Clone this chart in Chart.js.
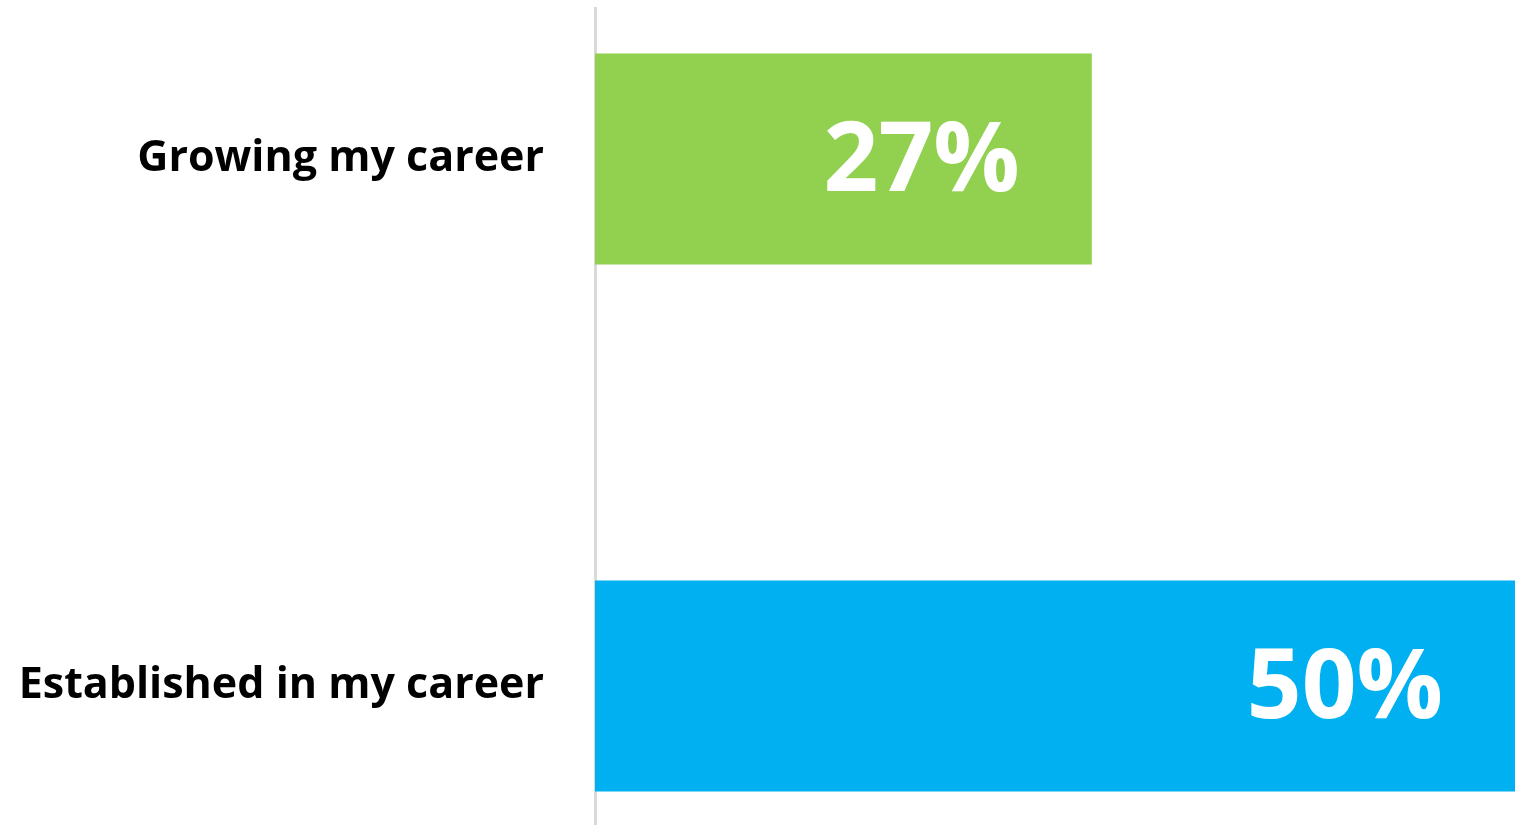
<!DOCTYPE html>
<html>
<head>
<meta charset="utf-8">
<script src="https://cdn.jsdelivr.net/npm/chart.js@4/dist/chart.umd.min.js"></script>
<style>
  html, body { margin: 0; padding: 0; background: #ffffff; }
  #wrap { position: absolute; left: 0; top: 0; width: 1516px; height: 825px; }
</style>
</head>
<body>
<div id="wrap"><canvas id="chart"></canvas></div>
<script>
// Career stage shares (percent)
const categories = ['Growing my career', 'Established in my career'];
const positions = [0, 1];
const values = [27, 50];
const valueLabels = ['27%', '50%'];
const barColors = ['#92D050', '#00B0F0'];

// Writes the percentage inside each bar, near its right end
const valueLabelPlugin = {
  id: 'valueLabels',
  afterDatasetsDraw(chart) {
    const ctx = chart.ctx;
    const meta = chart.getDatasetMeta(0);
    ctx.save();
    ctx.fillStyle = '#ffffff';
    ctx.font = 'bold 96px "Open Sans"';
    ctx.textAlign = 'right';
    ctx.textBaseline = 'middle';
    meta.data.forEach((bar, i) => {
      ctx.fillText(valueLabels[i], bar.x - 72, bar.y + 5);
    });
    ctx.restore();
  }
};

new Chart(document.getElementById('chart'), {
  type: 'bar',
  data: {
    datasets: [{
      data: positions.map((p, i) => ({ x: values[i], y: p })),
      backgroundColor: barColors,
      borderWidth: 0,
      barPercentage: 0.4,
      categoryPercentage: 1
    }]
  },
  options: {
    indexAxis: 'y',
    responsive: true,
    maintainAspectRatio: false,
    animation: false,
    layout: { padding: { top: 8, right: 1, bottom: 0, left: 0 } },
    plugins: { legend: { display: false }, tooltip: { enabled: false } },
    scales: {
      x: {
        type: 'linear',
        min: 0,
        max: 50,
        display: false
      },
      y: {
        type: 'linear',
        offset: false,
        reverse: true,
        min: -0.2865,
        max: 1.2638,
        afterBuildTicks(scale) {
          scale.ticks = positions.map(v => ({ value: v }));
        },
        afterFit(scale) {
          scale.width = 595;
          scale.paddingTop = 0;
          scale.paddingBottom = 0;
        },
        grid: { display: false, drawTicks: false },
        border: { display: true, color: '#d9d9d9', width: 3 },
        ticks: {
          padding: 51,
          color: '#000000',
          font: { family: 'Open Sans', weight: 'bold', size: 43 },
          callback: (v) => categories[v] ?? ''
        }
      }
    }
  },
  plugins: [valueLabelPlugin]
});
</script>
</body>
</html>
